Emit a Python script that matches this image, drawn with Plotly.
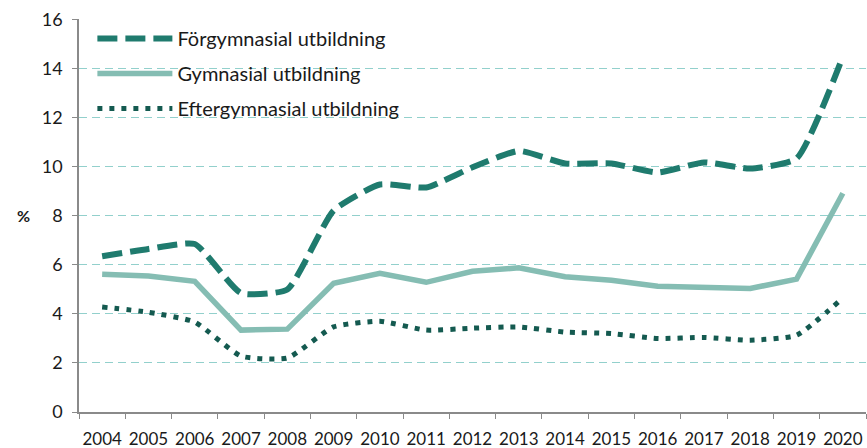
import plotly.graph_objects as go

years = ["2004", "2005", "2006", "2007", "2008", "2009", "2010", "2011", "2012",
         "2013", "2014", "2015", "2016", "2017", "2018", "2019", "2020"]
forgymnasial = [6.35, 6.65, 6.85, 4.85, 5.0, 8.22, 9.28, 9.16, 9.98,
                10.65, 10.14, 10.14, 9.77, 10.18, 9.93, 10.34, 14.5]
gymnasial = [5.62, 5.55, 5.33, 3.34, 3.38, 5.25, 5.66, 5.29, 5.74,
             5.88, 5.52, 5.37, 5.13, 5.09, 5.04, 5.42, 8.92]
eftergymnasial = [4.28, 4.07, 3.67, 2.28, 2.2, 3.47, 3.7, 3.34, 3.42,
                  3.47, 3.26, 3.2, 3.0, 3.04, 2.93, 3.13, 4.65]
names = ["Förgymnasial utbildning", "Gymnasial utbildning", "Eftergymnasial utbildning"]
y_ticks = [0, 2, 4, 6, 8, 10, 12, 14, 16]

fig = go.Figure()
fig.add_trace(go.Scatter(x=years, y=forgymnasial, name=names[0], mode="lines",
                         legendgroup="a",
                         line=dict(color="#1f7b6e", width=6, dash="20px,8px",
                                   shape="spline", smoothing=0.5)))
fig.add_trace(go.Scatter(x=years, y=gymnasial, name=names[1], mode="lines",
                         legendgroup="b",
                         line=dict(color="#85bdb3", width=5.5)))
fig.add_trace(go.Scatter(x=years, y=eftergymnasial, name=names[2], mode="lines",
                         legendgroup="c",
                         line=dict(color="#145a50", width=5, dash="5px,7px",
                                   shape="spline", smoothing=0.5)))

fig.update_layout(
    width=867, height=448,
    margin=dict(l=79, r=1, t=19, b=36),
    paper_bgcolor="white", plot_bgcolor="white",
    font=dict(family="Lato", size=17, color="#1a1a1a"),
    showlegend=True,
    legend=dict(x=0.017, y=1.0, xanchor="left", yanchor="top",
                bgcolor="rgba(0,0,0,0)", itemwidth=75, tracegroupgap=6,
                font=dict(size=20)),
    xaxis=dict(type="category", range=[-0.5, 16.5], showline=True,
               linecolor="#8a8a8a", linewidth=1.5,
               ticks="outside", ticklen=5, tickcolor="#8a8a8a", tickson="boundaries",
               showgrid=False, tickfont=dict(size=17), tickangle=0,
               ticklabelstandoff=11, automargin=False, fixedrange=True),
    yaxis=dict(range=[0, 16.03], tickvals=y_ticks, showline=True, linecolor="#8a8a8a",
               linewidth=1.5, ticks="outside", ticklen=5, tickcolor="#8a8a8a",
               showgrid=True, gridcolor="#92d0cc", gridwidth=1.2, griddash="8px,5px",
               zeroline=False, tickfont=dict(size=18), ticklabelstandoff=6,
               ticklabeloverflow="allow", automargin=False),
    annotations=[dict(text="<b>%</b>", xref="paper", yref="paper", x=0, y=0.5,
                      xanchor="center", xshift=-56,
                      showarrow=False, font=dict(size=16))],
)

fig.write_html("out.html",
               config={"displayModeBar": False},
               post_script="document.body.style.margin='0';"
                           "document.body.style.overflow='hidden';")
